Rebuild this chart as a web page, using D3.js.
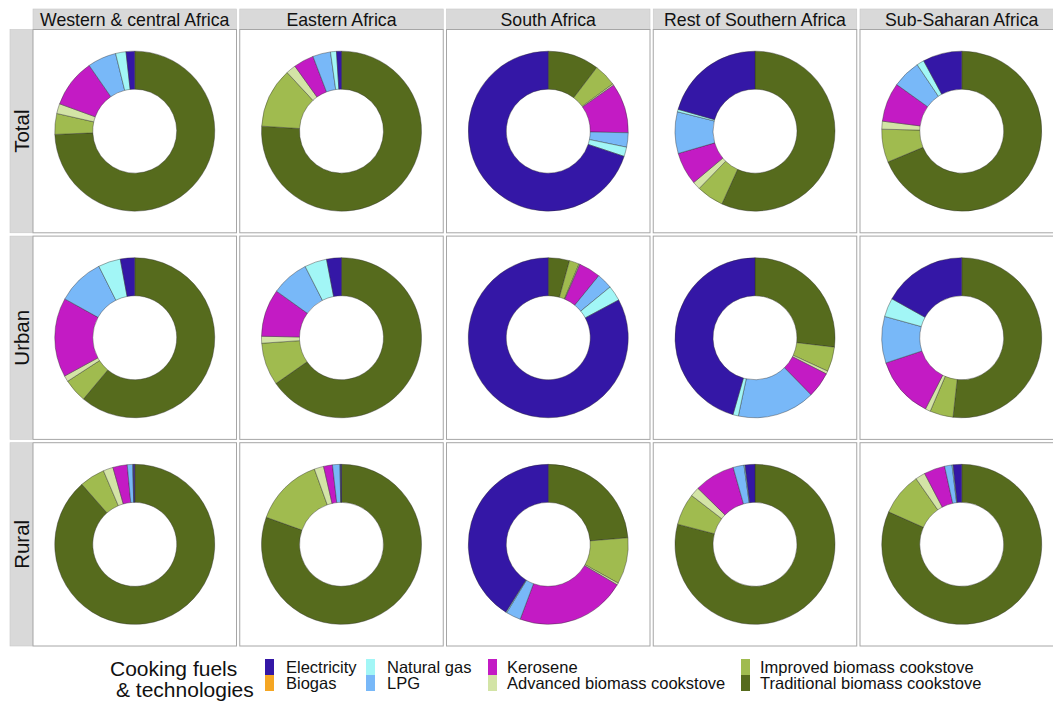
<!DOCTYPE html>
<html>
<head>
<meta charset="utf-8">
<script src="https://cdn.jsdelivr.net/npm/d3@7"></script>
<style>
  body { margin: 0; background: #fff; }
  text { font-family: "Liberation Sans", Arial, sans-serif; fill: #111; }
</style>
</head>
<body>
<div id="chart"></div>
<script>
// fuel order as in the legend; slices are drawn clockwise from the last one
const fuels = ["Electricity", "Biogas", "Natural gas", "LPG", "Kerosene",
  "Advanced biomass cookstove", "Improved biomass cookstove", "Traditional biomass cookstove"];
const fuelColors = ["#3417a6", "#f5a623", "#a2f6f6", "#78b8f8", "#c31bc4",
  "#d3e4a6", "#a0bb4f", "#566b1d"];

const regions = ["Western & central Africa", "Eastern Africa", "South Africa",
  "Rest of Southern Africa", "Sub-Saharan Africa"];
const areas = ["Total", "Urban", "Rural"];

// shares in % (fuel order above), one row per region
const totalShares = [
  [1.75, 0, 2.1, 5.8, 9.8, 2.0, 4.2, 74.35],
  [1.0, 0, 1.2, 3.6, 4.1, 2.0, 12.1, 76.0],
  [70.1, 0, 1.9, 2.9, 10.1, 0.3, 4.6, 10.4],
  [20.6, 0, 0.5, 8.4, 6.6, 1.6, 5.5, 56.8],
  [7.9, 0, 1.5, 5.7, 7.9, 1.6, 6.7, 68.7]
];
const urbanShares = [
  [2.9, 0, 4.5, 9.5, 16.0, 1.2, 4.75, 61.0],
  [3.0, 0, 4.5, 7.6, 9.6, 1.4, 8.6, 65.3],
  [83.0, 0, 3.1, 3.2, 4.4, 0.2, 2.0, 4.3],
  [45.6, 0, 1.1, 15.7, 5.2, 0.6, 5.0, 26.9],
  [16.9, 0, 3.8, 9.4, 12.4, 1.05, 4.7, 51.75]
];
const ruralShares = [
  [0.3, 0, 0.1, 1.1, 2.9, 2.0, 5.1, 88.5],
  [0.2, 0, 0.1, 1.5, 1.8, 1.9, 14.0, 80.5],
  [41.2, 0, 0.2, 3.0, 22.3, 0.4, 9.4, 23.75],
  [2.0, 0, 0.2, 2.2, 8.25, 1.9, 6.4, 79.1],
  [1.75, 0, 0.2, 1.5, 4.25, 2.0, 8.7, 81.9]
];
const sharesByArea = [totalShares, urbanShares, ruralShares];

const W = 1053, H = 701;
const svg = d3.select("#chart").append("svg")
  .attr("width", W)
  .attr("height", H);

const x = d3.scaleBand().domain(regions).range([33, 1063.5]).paddingInner(0.0157);
const y = d3.scaleBand().domain(areas).range([29.5, 646]).paddingInner(0.016);

const color = d3.scaleOrdinal().domain(fuels).range(fuelColors);

const pie = d3.pie().sort(null).value(d => d.value);
const arc = d3.arc().innerRadius(42).outerRadius(80);

// column strips
const colStrip = svg.append("g").selectAll("g")
  .data(regions).enter().append("g")
  .attr("transform", d => `translate(${x(d)},9)`);
colStrip.append("rect")
  .attr("width", x.bandwidth())
  .attr("height", 20.5)
  .attr("fill", "#d9d9d9")
  .attr("stroke", "#c8c8c8")
  .attr("stroke-width", 0.6);
colStrip.append("text")
  .attr("x", x.bandwidth() / 2)
  .attr("y", 16.5)
  .attr("text-anchor", "middle")
  .attr("font-size", 17.7)
  .text(d => d);

// row strips
const rowStrip = svg.append("g").selectAll("g")
  .data(areas).enter().append("g")
  .attr("transform", d => `translate(10,${y(d)})`);
rowStrip.append("rect")
  .attr("width", 22.5)
  .attr("height", y.bandwidth())
  .attr("fill", "#d9d9d9")
  .attr("stroke", "#c8c8c8")
  .attr("stroke-width", 0.6);
rowStrip.append("text")
  .attr("transform", `translate(18.5,${y.bandwidth() / 2}) rotate(-90)`)
  .attr("text-anchor", "middle")
  .attr("font-size", 20.5)
  .text(d => d);

// panels
areas.forEach((area, ai) => {
  regions.forEach((region, ri) => {
    const vals = fuels.map((f, i) => ({ fuel: f, value: sharesByArea[ai][ri][i] })).reverse();
    const g = svg.append("g")
      .attr("transform", `translate(${x(region)},${y(area)})`);
    g.append("rect")
      .attr("width", x.bandwidth())
      .attr("height", y.bandwidth())
      .attr("fill", "#fff")
      .attr("stroke", "#a6a6a6")
      .attr("stroke-width", 1);
    g.append("g")
      .attr("transform", `translate(${x.bandwidth() / 2},${y.bandwidth() / 2})`)
      .selectAll("path")
      .data(pie(vals).filter(d => d.value > 0))
      .enter().append("path")
      .attr("d", arc)
      .attr("fill", d => color(d.data.fuel))
      .attr("stroke", "#2a2a2a")
      .attr("stroke-width", 0.4);
  });
});

// legend
const legend = svg.append("g");
legend.append("text").attr("x", 110).attr("y", 676).attr("font-size", 21).text("Cooking fuels");
legend.append("text").attr("x", 116).attr("y", 697).attr("font-size", 21).text("& technologies");

const legCols = [265, 366, 488, 741];
const items = legend.selectAll("g.item")
  .data(fuels).enter().append("g")
  .attr("class", "item")
  .attr("transform", (d, i) => `translate(${legCols[Math.floor(i / 2)]},${659 + (i % 2) * 16})`);
items.append("rect")
  .attr("width", 9)
  .attr("height", 16)
  .attr("fill", d => color(d));
items.append("text")
  .attr("x", d => fuels.indexOf(d) < 4 ? 21 : 19)
  .attr("y", 13.5)
  .attr("font-size", 16.5)
  .text(d => d);
</script>
</body>
</html>
